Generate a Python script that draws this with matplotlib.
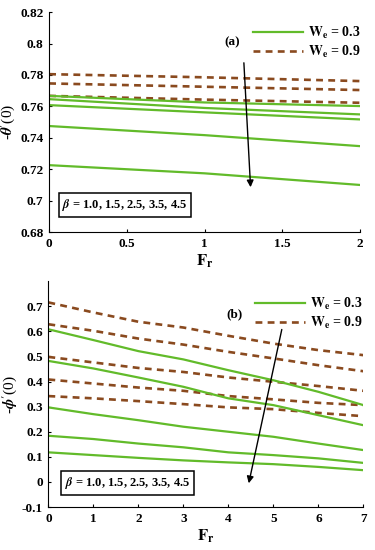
import numpy as np
import matplotlib
matplotlib.use('Agg')
import matplotlib.pyplot as plt

plt.rcParams['font.family'] = ['Liberation Serif', 'DejaVu Serif']
plt.rcParams['font.weight'] = 'bold'
plt.rcParams['mathtext.fontset'] = 'stix'

# panel (a): -theta'(0) vs Fr
fr_a = [0, 1, 2]
theta_we09 = [
    [0.7805, 0.7785, 0.7761],
    [0.7746, 0.7725, 0.7704],
    [0.7667, 0.7643, 0.7623],
]
theta_we03 = [
    [0.7667, 0.7625, 0.7602],
    [0.7646, 0.7590, 0.7549],
    [0.7608, 0.7562, 0.7517],
    [0.7475, 0.7417, 0.7347],
    [0.7226, 0.7174, 0.7100],
]

# panel (b): -phi'(0) vs Fr
fr_b = [0, 1, 2, 3, 4, 5, 6, 7]
phi_we09 = [
    [0.715, 0.675, 0.638, 0.615, 0.582, 0.551, 0.525, 0.505],
    [0.628, 0.602, 0.571, 0.547, 0.518, 0.492, 0.465, 0.441],
    [0.498, 0.476, 0.454, 0.438, 0.416, 0.399, 0.382, 0.363],
    [0.408, 0.392, 0.376, 0.363, 0.342, 0.329, 0.315, 0.306],
    [0.342, 0.333, 0.322, 0.310, 0.297, 0.290, 0.275, 0.262],
]
phi_we03 = [
    [0.608, 0.565, 0.521, 0.488, 0.445, 0.405, 0.359, 0.306],
    [0.482, 0.452, 0.416, 0.379, 0.333, 0.306, 0.266, 0.226],
    [0.297, 0.270, 0.246, 0.220, 0.200, 0.180, 0.153, 0.127],
    [0.184, 0.171, 0.153, 0.138, 0.118, 0.107, 0.094, 0.076],
    [0.118, 0.107, 0.096, 0.086, 0.078, 0.071, 0.060, 0.047],
]

green = '#62bb2a'
brown = '#8a4a1f'
dash = (0, (2.6, 2.0))
beta_txt = r'$\mathbfit{\beta}$ = 1.0, 1.5, 2.5, 3.5, 4.5'


def fmt(v):
    s = '%g' % round(v, 3)
    return '0' if s == '-0' else s


def style_ax(ax, xticks, yticks):
    for s in ['top', 'right']:
        ax.spines[s].set_visible(False)
    ax.tick_params(direction='in', length=2.5, labelsize=9.5, pad=4)
    ax.set_xticks(xticks)
    ax.set_xticklabels([fmt(t) for t in xticks], fontweight='bold')
    ax.set_yticks(yticks)
    ax.set_yticklabels([fmt(t) for t in yticks], fontweight='bold')


def draw_panel(ax, x, solid, dashed, leg_y):
    for y in dashed:
        ax.plot(x, y, color=brown, lw=1.9, ls=dash)
    for y in solid:
        ax.plot(x, y, color=green, lw=1.6)
    ax.plot([], [], color=green, lw=1.6, label=r'$\mathbf{W_e}$ = 0.3')
    ax.plot([], [], color=brown, lw=1.9, ls=dash, label=r'$\mathbf{W_e}$ = 0.9')
    ax.legend(loc='upper left', bbox_to_anchor=(0.656, leg_y), frameon=False,
              handlelength=3.6, handletextpad=0.35, labelspacing=0.2, borderpad=0,
              borderaxespad=0, prop={'weight': 'bold', 'size': 10})


fig = plt.figure(figsize=(3.75, 5.5), dpi=100)

ax1 = fig.add_axes([0.131, 0.578, 0.829, 0.4])
draw_panel(ax1, fr_a, theta_we03, theta_we09, 0.94)
ax1.set_xlim(0, 2)
ax1.set_ylim(0.68, 0.82)
style_ax(ax1, [0, 0.5, 1, 1.5, 2], np.arange(0.68, 0.821, 0.02))
ax1.set_xlabel(r'$\mathbf{F_r}$', fontsize=12, labelpad=2)
ax1.set_ylabel(r"-$\mathbfit{\theta}'$(0)", fontsize=11, labelpad=2)
ax1.annotate('', xy=(1.297, 0.7068), xytext=(1.252, 0.7895),
             arrowprops=dict(arrowstyle='-|>', color='k', lw=1, mutation_scale=10))
ax1.text(1.175, 0.8009, '(a)', fontsize=9.5, ha='center', va='center')
ax1.text(0.085, 0.6972, beta_txt, fontsize=9, va='center',
         bbox=dict(boxstyle='square,pad=0.3', fc='white', ec='k', lw=1.1))

ax2 = fig.add_axes([0.129, 0.078, 0.84, 0.411])
draw_panel(ax2, fr_b, phi_we03, phi_we09, 0.935)
ax2.set_xlim(0, 7)
ax2.set_ylim(-0.1, 0.8)
style_ax(ax2, list(range(8)), np.arange(-0.1, 0.71, 0.1))
ax2.set_xlabel(r'$\mathbf{F_r}$', fontsize=12, labelpad=2)
ax2.set_ylabel(r"-$\mathbfit{\phi}'$(0)", fontsize=11, labelpad=2)
ax2.annotate('', xy=(4.44, -0.016), xytext=(5.2, 0.618),
             arrowprops=dict(arrowstyle='-|>', color='k', lw=1, mutation_scale=10))
ax2.text(4.13, 0.668, '(b)', fontsize=9.5, ha='center', va='center')
ax2.text(0.37, -0.004, beta_txt, fontsize=9, va='center',
         bbox=dict(boxstyle='square,pad=0.3', fc='white', ec='k', lw=1.1))

fig.savefig('out.png', dpi=100)
